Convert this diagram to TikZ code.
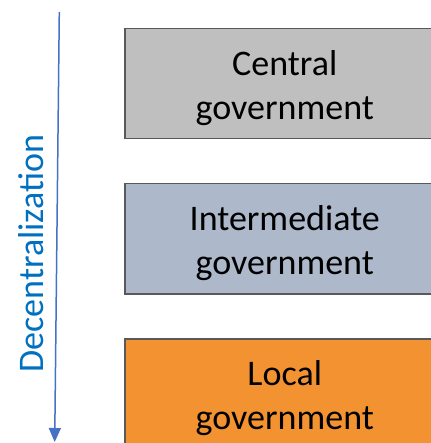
\documentclass[tikz,border=0pt]{standalone}
\usepackage{fontspec}
\setmainfont{Carlito}
\usetikzlibrary{arrows.meta}
\definecolor{boxborder}{RGB}{89,89,89}
\definecolor{centralfill}{RGB}{191,191,191}
\definecolor{interfill}{RGB}{173,185,202}
\definecolor{localfill}{RGB}{243,146,48}
\definecolor{arrowblue}{RGB}{68,114,196}
\definecolor{labelblue}{RGB}{0,112,192}
\tikzset{
  govbox/.style={draw=boxborder, line width=1.5pt, rectangle, anchor=north west,
    minimum width=320pt, minimum height=110pt, inner sep=0pt},
  govtext/.style={align=center, font=\fontsize{36}{44}\selectfont, text=black, inner sep=0pt},
  decarrow/.style={draw=arrowblue, line width=1.5pt, -{Triangle[width=12pt,length=14pt]}},
}
\begin{document}
\begin{tikzpicture}[x=1pt,y=-1pt]
\useasboundingbox (0,0) rectangle (430,443);
\node[govbox, fill=centralfill] (central) at (124,28) {};
\node[govbox, fill=interfill] (inter) at (124,183) {};
\node[govbox, fill=localfill] (local) at (124,338) {};
\node[govtext] (centraltext) at ([yshift=-4pt]central.center) {Central\\government};
\node[govtext] (intertext) at ([yshift=-4pt]inter.center) {Intermediate\\government};
\node[govtext] (localtext) at ([yshift=-4pt]local.center) {Local\\government};
\coordinate (arrowstart) at (59.3,12);
\coordinate (arrowend) at (54.7,442);
\draw[decarrow] (arrowstart) -- (arrowend);
\node[rotate=90, anchor=base, inner sep=0pt, text=labelblue, font=\fontsize{36}{44}\selectfont] (declabel) at (43.3,253.5) {Decentralization};
\end{tikzpicture}
\end{document}
